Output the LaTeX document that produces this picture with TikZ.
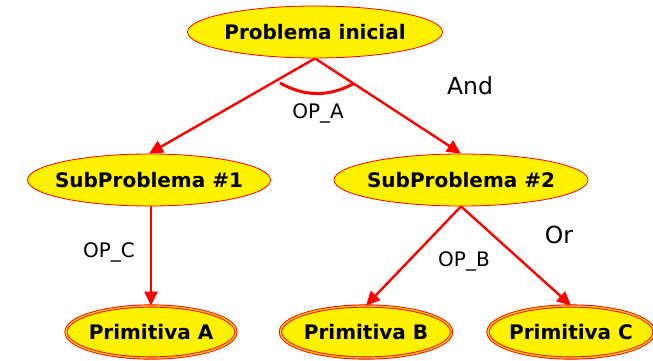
\documentclass[tikz,border=0pt]{standalone}
\usepackage{fontspec}
\setmainfont{DejaVu Sans}
\usetikzlibrary{shapes.geometric, arrows.meta}
\pgfdeclarelayer{back}
\pgfsetlayers{back,main}

\begin{document}
\begin{tikzpicture}[x=1pt, y=-1pt,
    goal/.style={ellipse, draw=red, line width=0.8pt, fill=yellow, inner xsep=-12pt,
        inner ysep=0pt, minimum height=52pt, font=\fontsize{20}{24}\selectfont\bfseries},
    prim/.style={goal, double=yellow!60!orange, double distance=1.4pt, line width=0.9pt},
    link/.style={draw=red, line width=2.4pt, -{Triangle[length=14pt, width=13pt]}},
    oplabel/.style={anchor=base, font=\fontsize{20}{24}\selectfont},
    kind/.style={anchor=base, font=\fontsize{23.5}{28}\selectfont}]
    \useasboundingbox (0,0) rectangle (653,360);
    \node [goal, minimum width=255pt] (top) at (315,32) {Problema inicial};
    \node [goal, minimum width=243pt] (sub1) at (149,180) {SubProblema \#1};
    \node [goal, minimum width=254pt] (sub2) at (461,180) {SubProblema \#2};
    \node [prim, minimum width=170pt] (primA) at (151,332) {Primitiva A};
    \node [prim, minimum width=171pt] (primB) at (366,332) {Primitiva B};
    \node [prim, minimum width=166pt] (primC) at (571,332) {Primitiva C};
    % arrows behind the ellipses
    \begin{pgfonlayer}{back}
        \foreach \From/\To in {top/sub1, top/sub2, sub2/primB, sub2/primC}{
            \draw [link] (\From.south) -- (\To.north);
        }
        \draw [link] (sub1.south -| primA.north) -- (primA.north);
    \end{pgfonlayer}
    % and-arc
    \coordinate (arcL) at (280,83);
    \coordinate (arcR) at (353,84);
    \draw [red, line width=3pt] (arcL) to[bend right=28] (arcR);
    \node [oplabel] (opA) at (318,118) {OP\_A};
    \node [oplabel] (opB) at (464,266) {OP\_B};
    \node [oplabel] (opC) at (109,257) {OP\_C};
    \node [kind] (andlab) at (470,94) {And};
    \node [kind] (orlab) at (559,243) {Or};
\end{tikzpicture}
\end{document}
